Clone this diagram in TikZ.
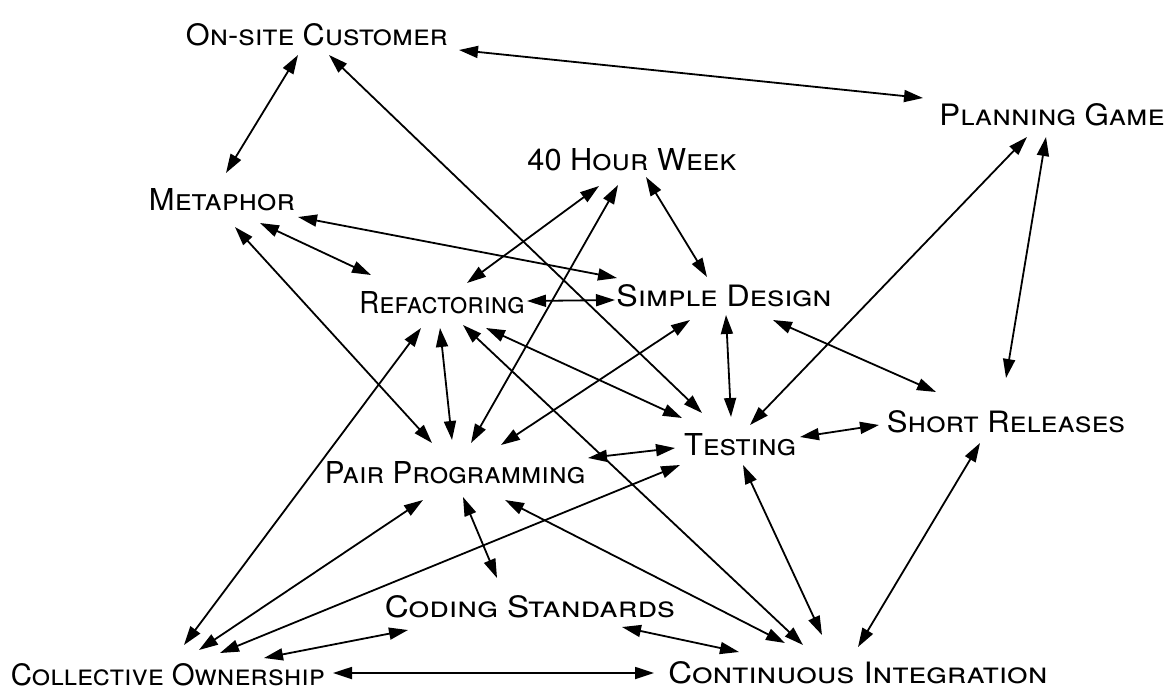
\documentclass[tikz,border=0pt]{standalone}
\usepackage{fontspec}
\setmainfont{TeX Gyre Heros}
\usetikzlibrary{arrows.meta}
\newcommand{\lab}[2]{\resizebox{#1pt}{22pt}{\scshape #2}}
\tikzset{
  lbl/.style={inner sep=0pt, outer sep=0pt},
  link/.style={>={Triangle[length=19pt,width=12pt]}, <->, line width=1.8pt, black}
}
\begin{document}
\begin{tikzpicture}[x=1pt,y=-1pt]
\useasboundingbox[fill=white] (0,0) rectangle (1174,691);
\node[lbl] (osc) at (317,35)  {\lab{262}{On-site Customer}};
\node[lbl] (pg)  at (1052,115) {\lab{225}{Planning Game}};
\node[lbl] (fhw) at (632,160) {\lab{209}{40 Hour Week}};
\node[lbl] (met) at (222,200) {\lab{146}{Metaphor}};
\node[lbl] (ref) at (442,303) {\lab{165}{Refactoring}};
\node[lbl] (sd)  at (724,296) {\lab{215}{Simple Design}};
\node[lbl] (sr)  at (1006,422) {\lab{238}{Short Releases}};
\node[lbl] (tst) at (740,445) {\lab{112}{Testing}};
\node[lbl] (pp)  at (455,473) {\lab{260}{Pair Programming}};
\node[lbl] (cs)  at (530,607) {\lab{290}{Coding Standards}};
\node[lbl] (co)  at (168,675) {\lab{314}{Collective Ownership}};
\node[lbl] (ci)  at (858,673) {\lab{379}{Continuous Integration}};

\draw[link] ([shift={(142,15)}]osc.center) -- ([shift={(-129,-17)}]pg.center);
\draw[link] ([shift={(-19,20)}]osc.center) -- ([shift={(4,-27)}]met.center);
\draw[link] ([shift={(12,20)}]osc.center) -- ([shift={(-38,-32)}]tst.center);
\draw[link] ([shift={(38,23)}]met.center) -- ([shift={(-71,-28)}]ref.center);
\draw[link] ([shift={(76,17)}]met.center) -- ([shift={(-107,-18)}]sd.center);
\draw[link] ([shift={(13,27)}]met.center) -- ([shift={(-23,-30)}]pp.center);
\draw[link] ([shift={(-33,26)}]fhw.center) -- ([shift={(25,-20)}]ref.center);
\draw[link] ([shift={(-14,25)}]fhw.center) -- ([shift={(16,-30)}]pp.center);
\draw[link] ([shift={(14,17)}]fhw.center) -- ([shift={(-17,-19)}]sd.center);
\draw[link] ([shift={(85,-2)}]ref.center) -- ([shift={(-109,4)}]sd.center);
\draw[link] ([shift={(-2,25)}]ref.center) -- ([shift={(-3,-33)}]pp.center);
\draw[link] ([shift={(-21,25)}]ref.center) -- ([shift={(16,-30)}]co.center);
\draw[link] ([shift={(44,25)}]ref.center) -- ([shift={(-58,-27)}]tst.center);
\draw[link] ([shift={(21,22)}]ref.center) -- ([shift={(-55,-28)}]ci.center);
\draw[link] ([shift={(-34,24)}]sd.center) -- ([shift={(46,-28)}]pp.center);
\draw[link] ([shift={(2,19)}]sd.center) -- ([shift={(-9,-28)}]tst.center);
\draw[link] ([shift={(49,24)}]sd.center) -- ([shift={(-70,-30)}]sr.center);
\draw[link] ([shift={(-25,22)}]pg.center) -- ([shift={(10,-20)}]tst.center);
\draw[link] ([shift={(-6,22)}]pg.center) -- ([shift={(0,-44)}]sr.center);
\draw[link] ([shift={(60,-8)}]tst.center) -- ([shift={(-127,3)}]sr.center);
\draw[link] ([shift={(-65,3)}]tst.center) -- ([shift={(133,-15)}]pp.center);
\draw[link] ([shift={(-60,20)}]tst.center) -- ([shift={(52,-22)}]co.center);
\draw[link] ([shift={(-32,27)}]pp.center) -- ([shift={(31,-25)}]co.center);
\draw[link] ([shift={(8,24)}]pp.center) -- ([shift={(-33,-29)}]cs.center);
\draw[link] ([shift={(-122,23)}]cs.center) -- ([shift={(96,-17)}]co.center);
\draw[link] ([shift={(92,20)}]cs.center) -- ([shift={(-119,-21)}]ci.center);
\draw[link] ([shift={(165,-2)}]co.center) -- ([shift={(-204,0)}]ci.center);
\draw[link] ([shift={(50,27)}]pp.center) -- ([shift={(-73,-30)}]ci.center);
\draw[link] ([shift={(3,20)}]tst.center) -- ([shift={(-36,-38)}]ci.center);
\draw[link] ([shift={(-26,21)}]sr.center) -- ([shift={(0,-26)}]ci.center);
\end{tikzpicture}
\end{document}
